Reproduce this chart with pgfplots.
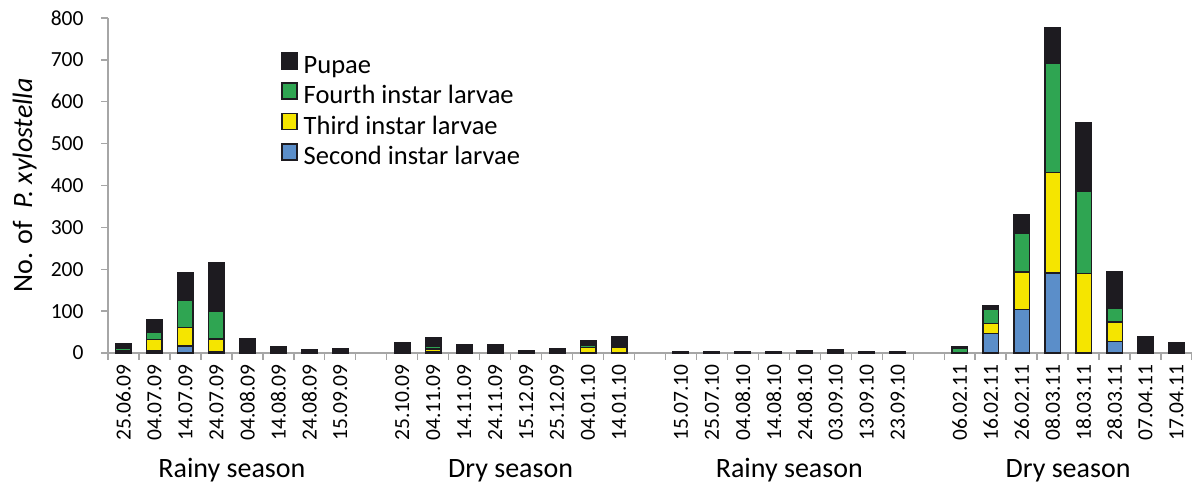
\documentclass[border=0pt]{standalone}
\usepackage{pgfplots}
\pgfplotsset{compat=1.18}
\usepackage{pgfplotstable}
\usepackage{fontspec}
\setmainfont{Carlito}
\definecolor{cpup}{HTML}{1D1B20}
\definecolor{cfour}{HTML}{2FA552}
\definecolor{cthree}{HTML}{F5E500}
\definecolor{ctwo}{HTML}{5B8EC9}
\definecolor{axgray}{HTML}{A6A6A6}
\pgfplotstableread{
x s t f p
0 2 3 6 12
1 5 27 18 29
2 17 44 66 64
3 3 31 66 116
4 0 0 0 34
5 0 0 0 15
6 0 0 0 8
7 0 0 3 8
9 3 2 0 19
10 2 8 6 21
11 0 0 0 20
12 0 0 0 20
13 0 0 0 6
14 0 0 0 10
15 1 12 6 10
16 1 13 5 19
18 0 0 1 1
19 0 0 1 1
20 0 0 1 2
21 0 0 1 2
22 0 0 1 4
23 0 0 1 7
24 0 0 1 3
25 0 0 0 2
27 0 0 12 4
28 46 24 34 9
29 104 89 94 43
30 191 240 260 85
31 0 190 196 164
32 28 46 32 87
33 0 0 0 38
34 0 0 0 25
}\data
\begin{document}
\begin{tikzpicture}[x=1pt,y=1pt]
\begin{axis}[
  at={(108pt,133pt)}, anchor=south west,
  scale only axis, width=1084pt, height=335pt,
  xmin=-0.5, xmax=34.5, ymin=0, ymax=800,
  clip=false,
  ybar stacked, bar width=15.5pt,
  axis x line=bottom, axis y line=left,
  axis line style={-, draw=axgray, line width=1.4pt},
  tick align=outside,
  tick style={draw=axgray, line width=1.4pt},
  major tick length=0pt, minor tick length=7pt,
  ytick={0,100,...,800},
  minor ytick={0,100,...,800},
  xtick={0,1,2,3,4,5,6,7,9,10,11,12,13,14,15,16,18,19,20,21,22,23,24,25,27,28,29,30,31,32,33,34},
  xticklabels={25.06.09,04.07.09,14.07.09,24.07.09,04.08.09,14.08.09,24.08.09,15.09.09,
    25.10.09,04.11.09,14.11.09,24.11.09,15.12.09,25.12.09,04.01.10,14.01.10,
    15.07.10,25.07.10,04.08.10,14.08.10,24.08.10,03.09.10,13.09.10,23.09.10,
    06.02.11,16.02.11,26.02.11,08.03.11,18.03.11,28.03.11,07.04.11,17.04.11},
  minor xtick={-0.5,0.5,...,34.5},
  xticklabel style={rotate=90, anchor=east, font=\fontsize{21.5}{24}\selectfont},
  yticklabel style={font=\fontsize{21.5}{24}\selectfont},
  xticklabel shift=8pt,
  yticklabel shift=21pt,
  /pgf/number format/assume math mode=true,
  every axis plot/.append style={draw=cpup, line width=1.5pt},
  legend style={at={(0.1596,0.899)}, anchor=north west, draw=none, fill=none,
    inner sep=0pt, font=\fontsize{26.5}{29}\selectfont,
    nodes={inner sep=0pt, text height=19pt, text depth=6pt}, row sep=3.2pt, column sep=6pt},
  legend cell align=left,
  reverse legend,
  legend image code/.code={\draw[#1] (0pt,-2pt) rectangle (15pt,14pt);},
]
\addplot[fill=ctwo] table[x=x,y=s]{\data};
\addplot[fill=cthree] table[x=x,y=t]{\data};
\addplot[fill=cfour] table[x=x,y=f]{\data};
\addplot[fill=cpup] table[x=x,y=p]{\data};
\legend{Second instar larvae,Third instar larvae,Fourth instar larvae,Pupae}
\node[anchor=base, font=\fontsize{28}{32}\selectfont] at (axis cs:3.5,0) [yshift=-125pt] {Rainy season};
\node[anchor=base, font=\fontsize{28}{32}\selectfont] at (axis cs:12.5,0) [yshift=-125pt] {Dry season};
\node[anchor=base, font=\fontsize{28}{32}\selectfont] at (axis cs:21.5,0) [yshift=-125pt] {Rainy season};
\node[anchor=base, font=\fontsize{28}{32}\selectfont] at (axis cs:30.5,0) [yshift=-125pt] {Dry season};
\end{axis}
\node[rotate=90, anchor=base, font=\fontsize{28}{32}\selectfont] at (32,300.5) {No. of\hspace{0.45em}\textit{P. xylostella}};
\pgfresetboundingbox
\useasboundingbox (0,0) rectangle (1192,486);
\end{tikzpicture}
\end{document}
